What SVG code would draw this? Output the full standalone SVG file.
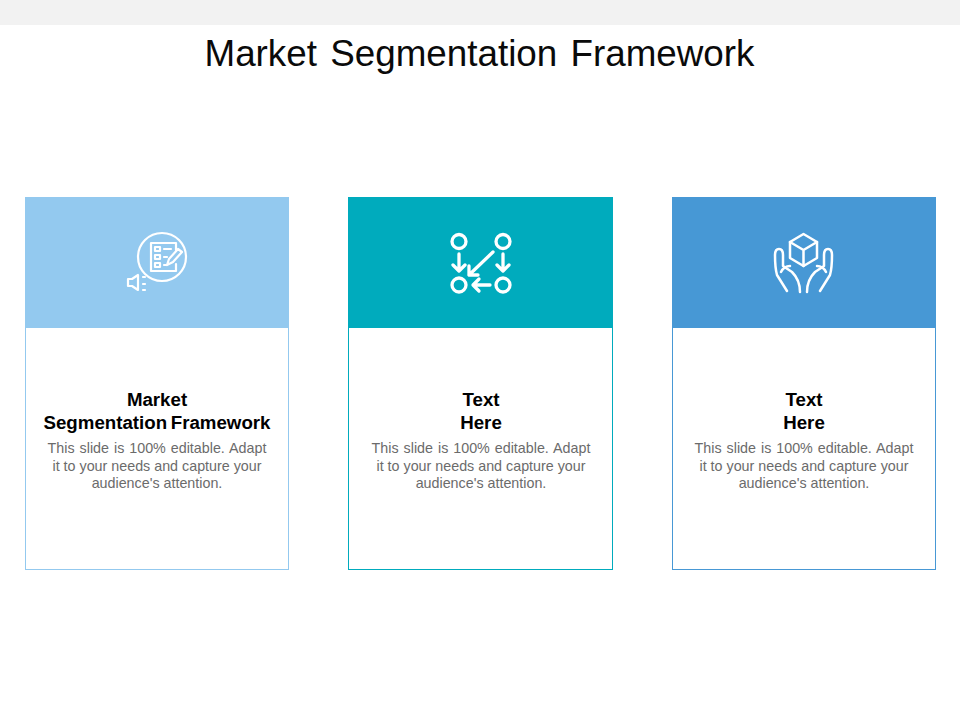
<svg xmlns="http://www.w3.org/2000/svg" width="960" height="720" viewBox="0 0 960 720">
<style>
text{font-family:"Liberation Sans",Arial,sans-serif;text-anchor:middle}
.t{font-size:36.800px;fill:#0a0a0a}
.h{font-size:18.700px;font-weight:bold;fill:#000}
.b{font-size:14.300px;fill:#6b6b6b}
.ic{fill:none;stroke:#fff;stroke-width:2.200;stroke-linecap:round;stroke-linejoin:round}
.i2{stroke-width:3.300}
.i3{stroke-width:2.500}
</style>
<rect width="960" height="720" fill="#fff"/>
<rect width="960" height="25" fill="#f2f2f2"/>
<text class="t" x="479.500" y="66" word-spacing="3">Market Segmentation Framework</text>
<g id="card1">
<rect x="25.500" y="197.500" width="263" height="372" fill="#fff" stroke="#93c9ef"/>
<rect x="25" y="197" width="264" height="131" fill="#93c9ef"/>
<g class="ic">
<circle cx="162" cy="257" r="24"/>
<path d="M176 250V243H151V271H176V264"/>
<path d="M155 247h5v4h-5zM155 255h5v4h-5zM155 263h5v4h-5zM164 249h7M164 257h3M164 265h2"/>
<path d="M167 265l2-6 9-10 4 3-9 10z"/>
<path d="M128 279h4l6-4v15l-6-4h-4zM143 277h2M143 284h2M143 290h2"/>
</g>
<text class="h" x="157" y="406">Market</text>
<text class="h" x="157" y="429" word-spacing="-1.500">Segmentation Framework</text>
<text class="b" x="157" y="453" word-spacing="1">This slide is 100% editable. Adapt</text>
<text class="b" x="157" y="471">it to your needs and capture your</text>
<text class="b" x="157" y="488">audience's attention.</text>
</g>
<g id="card2">
<rect x="348.500" y="197.500" width="264" height="372" fill="#fff" stroke="#00abbd"/>
<rect x="348" y="197" width="265" height="131" fill="#00abbd"/>
<g class="ic i2">
<circle cx="459" cy="241.500" r="7"/>
<circle cx="503" cy="241.500" r="7"/>
<circle cx="459" cy="285" r="7"/>
<circle cx="503" cy="285" r="7"/>
<path d="M459 254V271M453 265l6 6 6-6"/>
<path d="M503 254V271M497 265l6 6 6-6"/>
<path d="M493 252L469 275M469 266v9h9"/>
<path d="M490 285H473M479 279l-6 6 6 6"/>
</g>
<text class="h" x="481" y="406">Text</text>
<text class="h" x="481" y="429">Here</text>
<text class="b" x="481" y="453" word-spacing="1">This slide is 100% editable. Adapt</text>
<text class="b" x="481" y="471">it to your needs and capture your</text>
<text class="b" x="481" y="488">audience's attention.</text>
</g>
<g id="card3">
<rect x="672.500" y="197.500" width="263" height="372" fill="#fff" stroke="#4798d5"/>
<rect x="672" y="197" width="264" height="131" fill="#4798d5"/>
<g class="ic i3">
<path d="M803.500 234L817 242V258L803.500 266L790 258V242Z"/>
<path d="M790 242L803.500 250L817 242M803.500 250V266"/>
<path d="M787 291L777 275Q775 268 775 255Q775 249 779 249Q783 249 783 255V266L792 272Q800 280 800 292"/>
<path d="M781 272Q784 266 790 266"/>
<path d="M820 291L830 275Q832 268 832 255Q832 249 828 249Q824 249 824 255V266L815 272Q807 280 807 292"/>
<path d="M826 272Q823 266 817 266"/>
</g>
<text class="h" x="804" y="406">Text</text>
<text class="h" x="804" y="429">Here</text>
<text class="b" x="804" y="453" word-spacing="1">This slide is 100% editable. Adapt</text>
<text class="b" x="804" y="471">it to your needs and capture your</text>
<text class="b" x="804" y="488">audience's attention.</text>
</g>
</svg>
